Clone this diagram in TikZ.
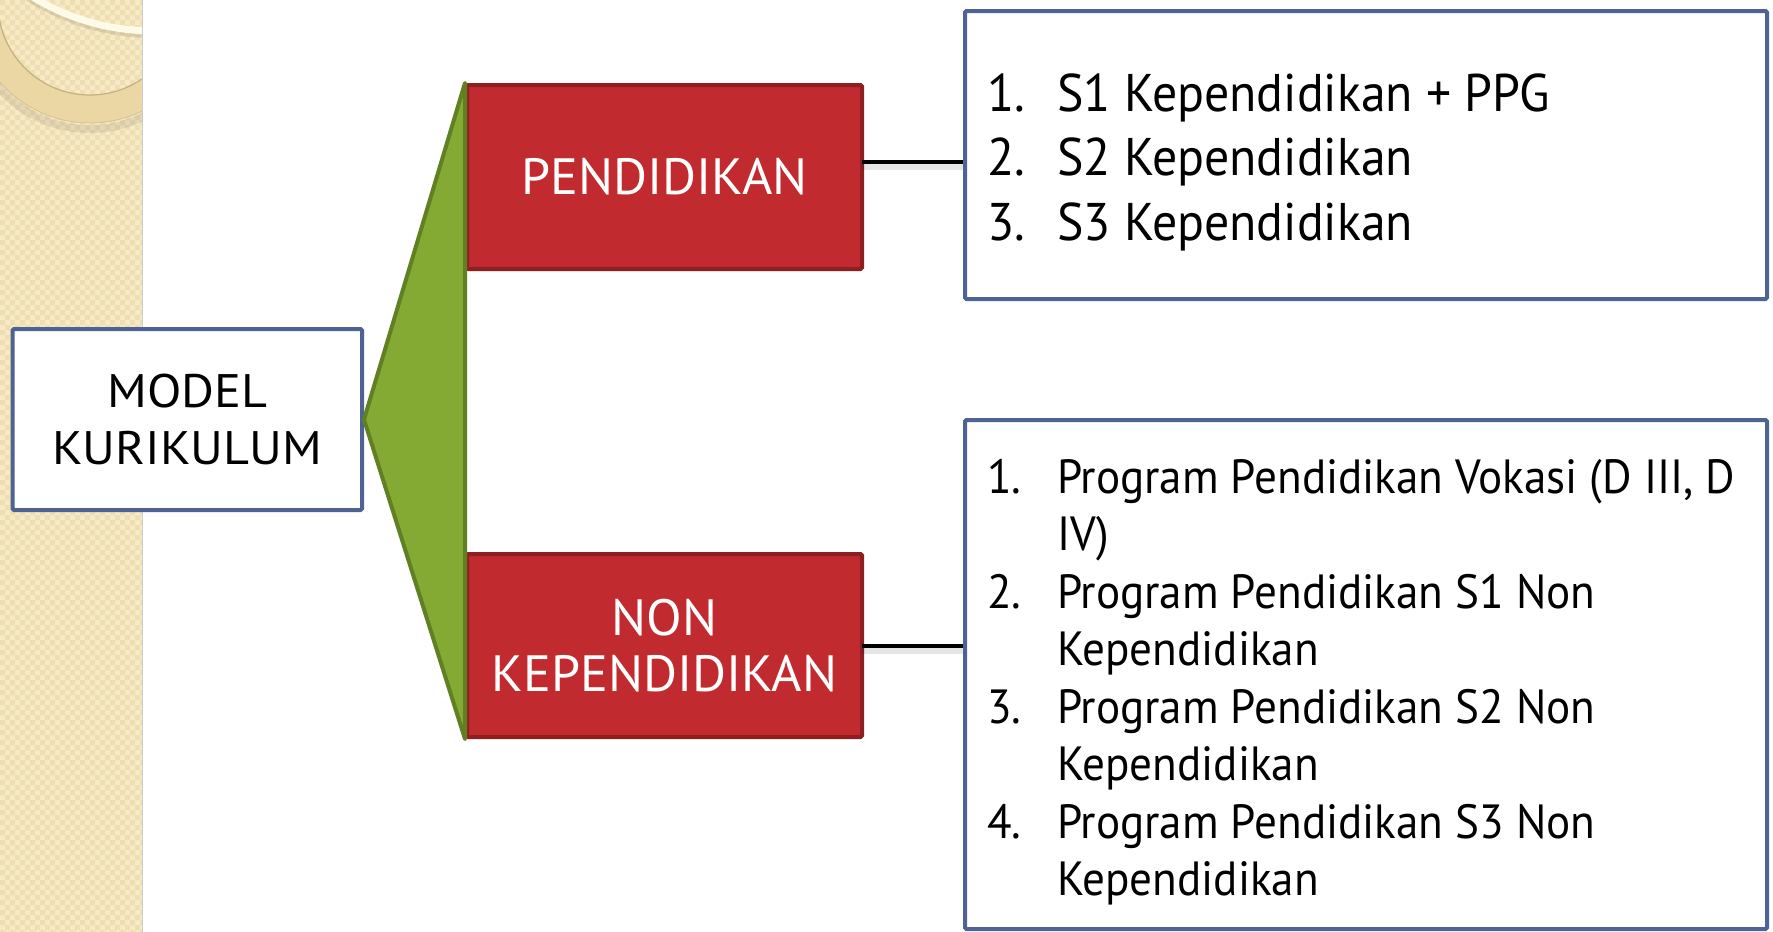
\documentclass[tikz,border=0pt]{standalone}
\usepackage{fontspec}
\setmainfont{PT Sans}
\newfontfamily\capsfam[FakeStretch=1.07]{PT Sans}
\newfontfamily\redfam[FakeStretch=1.02]{PT Sans}
\newfontfamily\listfam[FakeStretch=0.94]{PT Sans}
\usetikzlibrary{calc}

% palette
\definecolor{bluebd}{RGB}{79,98,148}
\definecolor{redfill}{RGB}{193,43,47}
\definecolor{redbd}{RGB}{142,31,33}
\definecolor{greenfill}{RGB}{133,170,52}
\definecolor{greenbd}{RGB}{97,127,35}
\definecolor{stripbase}{RGB}{248,234,196}
\definecolor{stripdark}{RGB}{238,222,180}
\definecolor{bandtan}{RGB}{234,215,163}
\definecolor{bandedge}{RGB}{196,176,128}
\definecolor{creamarc}{RGB}{254,250,232}

\newcommand{\modelfont}{\capsfam\fontsize{47}{57}\selectfont}
\newcommand{\redfont}{\redfam\fontsize{51}{56}\selectfont}
\newcommand{\listfonttop}{\listfam\fontsize{53}{64}\selectfont}
\newcommand{\listfontlow}{\listfam\fontsize{48}{57}\selectfont}

\begin{document}
\begin{tikzpicture}[x=1pt,y=-1pt,
  box/.style={draw=bluebd, line width=4pt, fill=white, rounded corners=1.5pt, inner sep=0pt},
  redbox/.style={draw=redbd, fill=redfill, line width=4pt, rounded corners=1.5pt,
    inner sep=0pt, text=white, align=center, font=\redfont},
  wedge/.style={draw=greenbd, fill=greenfill, line width=4pt, line join=round},
  link/.style={draw=black, line width=4pt},
  linkshade/.style={draw=black, line width=6pt, opacity=0.10},
  itemtop/.style={anchor=base west, inner sep=0pt, font=\listfonttop, text=black},
  itemlow/.style={anchor=base west, inner sep=0pt, font=\listfontlow, text=black}
]
% canvas
\fill[white] (0,0) rectangle (1773,932);
\useasboundingbox (0,0) rectangle (1773,932);

% decorative side strip with quilted texture and rings
\begin{scope}
  \clip (0,0) rectangle (142,932);
  \fill[stripbase] (0,0) rectangle (142,932);
  \fill[stripdark]
    \foreach \i in {0,...,14} {\foreach \j in {0,...,93}
      {(\i*10,\j*10) rectangle ++(5,5) (\i*10+5,\j*10+5) rectangle ++(5,5)}};
  \draw[black, opacity=0.08, line width=8pt] (90,7) circle[radius=122pt];
  \fill[bandtan, even odd rule] (90,3) circle[radius=120pt] (90,3) circle[radius=92pt];
  \draw[bandedge, line width=1.2pt] (90,3) circle[radius=92pt];
  \draw[bandedge, opacity=0.5, line width=1pt] (90,3) circle[radius=120pt];
  \draw[black, opacity=0.10, line width=6pt] (154,-198) circle[radius=233pt];
  \draw[creamarc, line width=7pt] (154,-202) circle[radius=233pt];
\end{scope}
\draw[black!20, line width=1.5pt] (142.5,0) -- (142.5,932);

% boxes
\node[box, minimum width=349.5pt, minimum height=181pt, align=center, font=\modelfont]
  (model) at (187.25,419.5) {MODEL\\KURIKULUM};
\node[redbox, minimum width=395pt, minimum height=184pt] (pend) at (664.5,177) {PENDIDIKAN};
\node[redbox, minimum width=395pt, minimum height=183pt] (nonpend) at (664.5,645.5) {NON\\KEPENDIDIKAN};
\node[box, minimum width=802pt, minimum height=288pt] (list1) at (1366,155) {};
\node[box, minimum width=802pt, minimum height=509pt] (list2) at (1366,674.5) {};

% fan from the root to both branches
\filldraw[wedge] (model.east) -- (pend.north west) -- (nonpend.south west) -- cycle;

% connectors from branches to their lists
\coordinate (c1) at (862,162);
\coordinate (c2) at (862,646);
\draw[linkshade] ($(c1)+(0,5)$) -- ($(c1 -| list1.west)+(0,5)$);
\draw[linkshade] ($(c2)+(0,5)$) -- ($(c2 -| list2.west)+(0,5)$);
\draw[link] (c1) -- (c1 -| list1.west);
\draw[link] (c2) -- (c2 -| list2.west);

% first list
\node[itemtop] (a1n) at (987,111) {1.};
\node[itemtop] (a1t) at (1057,111) {S1 Kependidikan + PPG};
\node[itemtop] (a2n) at (987,175) {2.};
\node[itemtop] (a2t) at (1057,175) {S2 Kependidikan};
\node[itemtop] (a3n) at (987,240) {3.};
\node[itemtop] (a3t) at (1057,240) {S3 Kependidikan};

% second list
\node[itemlow] (b1n) at (987,493) {1.};
\node[itemlow] (b1t) at (1057,493) {Program Pendidikan Vokasi (D III, D};
\node[itemlow] (b1u) at (1057,550.5) {IV)};
\node[itemlow] (b2n) at (987,608) {2.};
\node[itemlow] (b2t) at (1057,608) {Program Pendidikan S1 Non};
\node[itemlow] (b2u) at (1057,665.5) {Kependidikan};
\node[itemlow] (b3n) at (987,723) {3.};
\node[itemlow] (b3t) at (1057,723) {Program Pendidikan S2 Non};
\node[itemlow] (b3u) at (1057,780.5) {Kependidikan};
\node[itemlow] (b4n) at (987,838) {4.};
\node[itemlow] (b4t) at (1057,838) {Program Pendidikan S3 Non};
\node[itemlow] (b4u) at (1057,895.5) {Kependidikan};
\end{tikzpicture}
\end{document}
